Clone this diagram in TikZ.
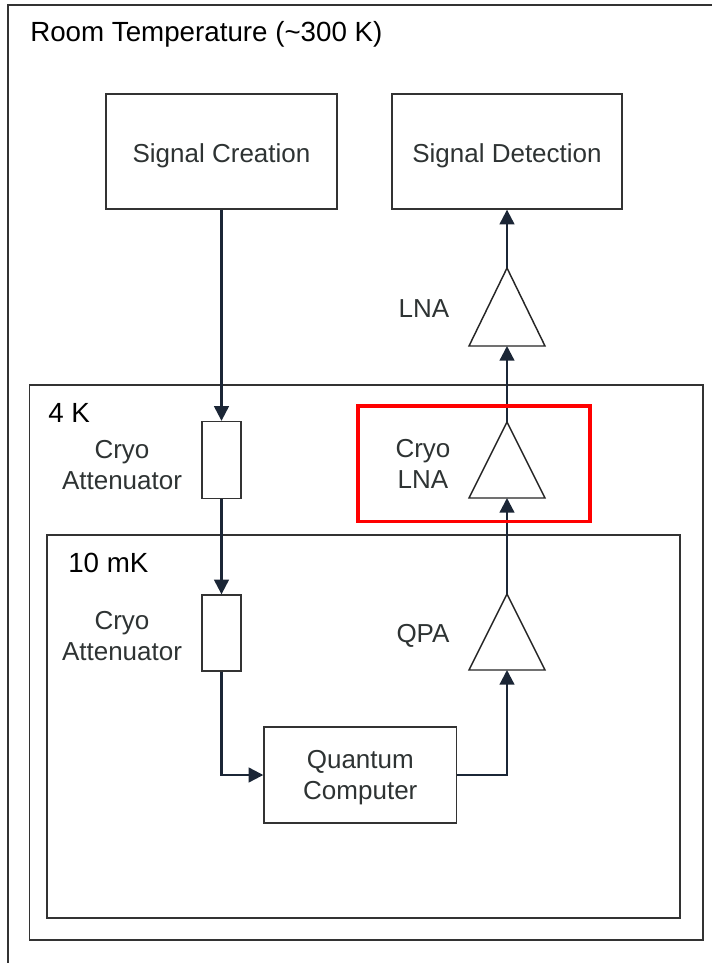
\documentclass[tikz,border=0pt]{standalone}
\usepackage{fontspec}
\setmainfont{Liberation Sans}
\usetikzlibrary{arrows.meta}

\definecolor{linegray}{HTML}{333333}
\definecolor{wirenavy}{HTML}{1B2636}
\definecolor{labelgray}{HTML}{2E3333}

\tikzset{
	block/.style={draw=linegray, line width=1pt, fill=white, text=labelgray, align=center, inner sep=0pt},
	stage/.style={draw=linegray, line width=1.1pt},
	amp/.style={draw=black!85, line width=1.1pt, fill=white},
	wire/.style={draw=wirenavy, line width=1.7pt, ->},
	lbl/.style={text=labelgray, align=center, inner sep=0pt},
	temp/.style={anchor=base west, inner sep=0pt, font=\fontsize{20.8}{25}\selectfont},
}

\begin{document}
\begin{tikzpicture}[>={Triangle[length=11pt,width=11pt]}, x=0.75pt, y=-0.75pt,
	font=\fontsize{19.5}{23.25}\selectfont]
	\useasboundingbox (0,0) rectangle (712,963);
	\clip (0,0) rectangle (712,963);
	
	% --- cac tang nhiet do ---
	\draw[stage] (8,5) rectangle (730,990);
	\draw[stage] (29.5,385) rectangle (703,940);
	\draw[stage] (47,535) rectangle (680,918);
	\node[temp] (room) at (30,42) {Room Temperature (\textasciitilde300 K)};
	\node[temp] (fourK) at (48,422) {4 K};
	\node[temp] (tenmK) at (68,572) {10 mK};
	
	% --- nhiet do phong ---
	\node[block, minimum width=173.25pt, minimum height=86.25pt, text height=16.5pt, text depth=0pt] (create) at (221.5,151.5) {Signal Creation};
	\node[block, minimum width=172.5pt, minimum height=86.25pt, text height=16.5pt, text depth=0pt] (detect) at (507,151.5) {Signal Detection};
	\coordinate (lnaTip) at (507,268);
	\coordinate (lnaIn) at (507,346);
	\draw[amp] ([xshift=-28.5pt]lnaIn) -- (lnaTip) -- ([xshift=28.5pt]lnaIn) -- cycle;
	\node[lbl, anchor=base] (lnaLbl) at (424,317) {LNA};
	
	% --- tang 4 K ---
	\node[block, minimum width=29.25pt, minimum height=57.75pt] (att1) at (221.5,460) {};
	\node[lbl] (att1Lbl) at (122,465) {Cryo\\Attenuator};
	\coordinate (clnaTip) at (507,422);
	\coordinate (clnaIn) at (507,498);
	\draw[amp] ([xshift=-28.5pt]clnaIn) -- (clnaTip) -- ([xshift=28.5pt]clnaIn) -- cycle;
	\node[lbl] (clnaLbl) at (423,463.5) {Cryo\\LNA};
	
	% --- tang 10 mK ---
	\node[block, minimum width=29.25pt, minimum height=57pt] (att2) at (221.5,633) {};
	\node[lbl] (att2Lbl) at (122,636) {Cryo\\Attenuator};
	\coordinate (qpaTip) at (507,594);
	\coordinate (qpaIn) at (507,670);
	\draw[amp] ([xshift=-28.5pt]qpaIn) -- (qpaTip) -- ([xshift=28.5pt]qpaIn) -- cycle;
	\node[lbl, anchor=base] (qpaLbl) at (423,642) {QPA};
	\node[block, minimum width=144.5pt, minimum height=72pt, text depth=0pt] (qc) at (360.3,775) {Quantum\\Computer};
	
	% --- duong tin hieu ---
	\draw[wire] (create.south) -- (att1.north);
	\draw[wire] (att1.south) -- (att2.north);
	\draw[wire] (att2.south) |- (qc.west);
	\draw[wire] (qc.east) -| (qpaIn);
	\draw[wire] (qpaTip) -- (clnaIn);
	\draw[wire] (clnaTip) -- (lnaIn);
	\draw[wire] (lnaTip) -- (detect.south);
	
	% khung do
	\draw[red, line width=2.5pt] (358,406) rectangle (590,521.5);
\end{tikzpicture}
\end{document}
